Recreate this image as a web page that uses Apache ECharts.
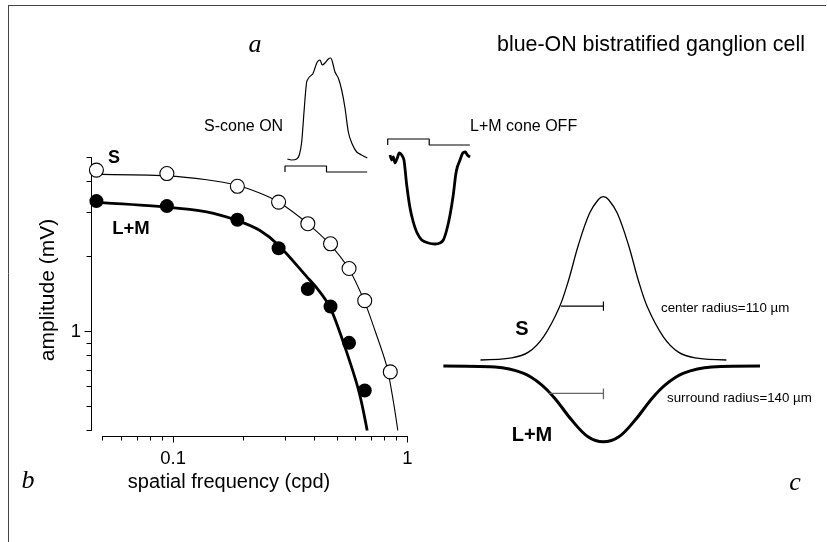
<!DOCTYPE html>
<html><head><meta charset="utf-8">
<script src="https://cdn.jsdelivr.net/npm/echarts@6/dist/echarts.min.js"></script>
<style>html,body{margin:0;padding:0;background:#fff}#c{width:827px;height:542px}</style>
</head><body><div id="c"></div><script>
// ---- panel b : spatial frequency tuning (log-log) ----
const freqS  = [0.047,0.094,0.188,0.282,0.376,0.47,0.564,0.658,0.846];
const ampS   = [4.45,4.31,3.83,3.31,2.71,2.25,1.79,1.33,0.688];
const freqLM = [0.047,0.094,0.188,0.282,0.376,0.47,0.564,0.658];
const ampLM  = [3.34,3.19,2.81,2.16,1.48,1.26,0.90,0.579];
const fitFreqS  = [0.047,0.094,0.139,0.188,0.234,0.282,0.374,0.467,0.5615,0.654,0.73,0.815,0.87,0.911];
const fitAmpS   = [4.28,4.22,4.07,3.86,3.6,3.31,2.72,2.24,1.79,1.33,1.0,0.73,0.53,0.4];
const fitFreqLM = [0.047,0.094,0.139,0.188,0.234,0.282,0.374,0.415,0.468,0.534,0.62,0.674];
const fitAmpLM  = [3.30,3.16,3.02,2.79,2.55,2.22,1.65,1.476,1.25,0.90,0.579,0.4];
const xRange = [0.05, 1];
const yRange = [0.4, 5];
const xMinorTicks = [0.05,0.06,0.07,0.08,0.09,0.2,0.3,0.4,0.5,0.6,0.7,0.8,0.9];
const xMajorTicks = [0.1, 1];
const xTickLabels = ['0.1', '1'];
const yMinorTicks = [0.4,0.5,0.6,0.7,0.8,0.9,2,3,4,5];
const yMajorTicks = [1];
const yTickLabels = ['1'];
// ---- panel a : response traces (sweep %, arbitrary amplitude) ----
const sConeT = [2.8,8.1,14.1,17.2,20.1,22.9,26.1,29.3,33.4,36.1,38.9,42.2,44.9,48.2,52.2,55.1,57.5,60.2,64.2,68.3,72.3,76.3,80.4,86.4,92.4,99.2];
const sConeV = [16,15,16,20,33,63,93,98,101,107,113,115,110,112,116,117,112,103,97,85,67,43,32,23,20,17];
const lmConeT = [2.8,4.8,6.7,8.8,11.6,14,16.9,19.6,22.9,26.9,30.8,34.9,41,48.9,57,63,67,71.1,75.1,79,81.9,83.9,87.1,90.4,93.5,95.9,99.2];
const lmConeV = [100,95,98,92,97,102,100,95,70,47,33,23,15,12,11,12,15,25,40,60,80,88,95,102,103,100,98];
const stimT = [0,0,50,50,99];
const sStimV = [3,9,9,3,3];
const lmStimV = [110,116,116,110,110];
// ---- panel c : receptive field profiles (um) ----
const posS  = [-318,-237,-194,-155,-114,-90,-65,-36,-13,0,13,36,65,90,114,155,194,237,318];
const sensS = [0.037,0.05,0.085,0.179,0.36,0.527,0.74,0.935,1.02,1.037,1.02,0.935,0.74,0.527,0.36,0.179,0.085,0.05,0.037];
const posLM  = [-414,-280,-206,-160,-125,-82,-40,0,40,82,125,160,206,280,405];
const sensLM = [0,-0.006,-0.045,-0.115,-0.2,-0.331,-0.433,-0.464,-0.433,-0.331,-0.2,-0.115,-0.045,-0.006,0];
const centerRadius = 110;
const surroundRadius = 140;

const zip = (a, b) => a.map((v, i) => [v, b[i]]);
const lg = v => Math.log10(v);
const FONT = '"Liberation Sans", Arial, sans-serif';
const SERIF = '"Liberation Serif", "Times New Roman", serif';

const G = {left: 102.7, top: 157.5, width: 304.6, height: 273};
const XOFF = 5.5, YOFF = 11.7;
const hiddenAx = (gi, min, max) => ({gridIndex: gi, type: 'value', min, max, show: false});
function labelFmt(ticks, labels) {
  return v => { const i = ticks.findIndex(t => Math.abs(lg(t) - v) < 1e-6); return i >= 0 ? labels[i] : ''; };
}

const chart = echarts.init(document.getElementById('c'), null, {renderer: 'canvas'});
chart.setOption({
  animation: false,
  backgroundColor: '#fff',
  grid: [
    Object.assign({}, G), Object.assign({}, G), Object.assign({}, G),
    {left: 285, top: 55, width: 83, height: 120},
    {left: 387.7, top: 135, width: 83, height: 120},
    {left: 443, top: 186.4, width: 317, height: 261.3}
  ],
  xAxis: [
    {gridIndex: 0, type: 'log', logBase: 10, min: xRange[0], max: xRange[1], offset: XOFF, position: 'bottom',
     axisLine: {show: true, onZero: false, lineStyle: {color: '#000', width: 1}}, axisTick: {show: false}, axisLabel: {show: false}, splitLine: {show: false}},
    {gridIndex: 1, type: 'value', min: lg(xRange[0]), max: lg(xRange[1]), offset: XOFF, position: 'bottom',
     axisLine: {show: false, onZero: false}, splitLine: {show: false}, axisLabel: {show: false},
     axisTick: {show: true, customValues: xMinorTicks.map(lg), length: 4.5, lineStyle: {color: '#000', width: 1}}},
    {gridIndex: 2, type: 'value', min: lg(xRange[0]), max: lg(xRange[1]), offset: XOFF, position: 'bottom',
     axisLine: {show: false, onZero: false}, splitLine: {show: false},
     axisTick: {show: true, customValues: xMajorTicks.map(lg), length: 6.5, lineStyle: {color: '#000', width: 1}},
     axisLabel: {show: true, customValues: xMajorTicks.map(lg), formatter: labelFmt(xMajorTicks, xTickLabels),
                 fontFamily: FONT, fontSize: 18.5, color: '#000', margin: 13},
     name: 'spatial frequency (cpd)', nameLocation: 'middle', nameGap: 32,
     nameTextStyle: {fontFamily: FONT, fontSize: 20, color: '#000', padding: [0, 52, 0, 0]}},
    hiddenAx(3, 0, 100), hiddenAx(4, 0, 100), hiddenAx(5, -415, 405)
  ],
  yAxis: [
    {gridIndex: 0, type: 'log', logBase: 10, min: yRange[0], max: yRange[1], offset: YOFF, position: 'left',
     axisLine: {show: true, onZero: false, lineStyle: {color: '#000', width: 1}}, axisTick: {show: false}, axisLabel: {show: false}, splitLine: {show: false}},
    {gridIndex: 1, type: 'value', min: lg(yRange[0]), max: lg(yRange[1]), offset: YOFF, position: 'left',
     axisLine: {show: false, onZero: false}, splitLine: {show: false}, axisLabel: {show: false},
     axisTick: {show: true, customValues: yMinorTicks.map(lg), length: 4.5, lineStyle: {color: '#000', width: 1}}},
    {gridIndex: 2, type: 'value', min: lg(yRange[0]), max: lg(yRange[1]), offset: YOFF, position: 'left',
     axisLine: {show: false, onZero: false}, splitLine: {show: false},
     axisTick: {show: true, customValues: yMajorTicks.map(lg), length: 6.5, lineStyle: {color: '#000', width: 1}},
     axisLabel: {show: true, customValues: yMajorTicks.map(lg), formatter: labelFmt(yMajorTicks, yTickLabels),
                 fontFamily: FONT, fontSize: 18.5, color: '#000', margin: 10},
     name: 'amplitude (mV)', nameLocation: 'middle', nameGap: 32, nameRotate: 90,
     nameTextStyle: {fontFamily: FONT, fontSize: 21, color: '#000', padding: [0, 0, 0, 8]}},
    hiddenAx(3, 0, 120), hiddenAx(4, 0, 120), hiddenAx(5, -0.5, 1.1)
  ],
  series: [
    {type: 'line', xAxisIndex: 0, yAxisIndex: 0, data: zip(fitFreqS, fitAmpS), symbol: 'none', smooth: 0.3, clip: false,
     lineStyle: {color: '#000', width: 1.1}, z: 2},
    {type: 'line', xAxisIndex: 0, yAxisIndex: 0, data: zip(fitFreqLM, fitAmpLM), symbol: 'none', smooth: 0.3, clip: false,
     lineStyle: {color: '#000', width: 2.8}, z: 2},
    {type: 'scatter', xAxisIndex: 0, yAxisIndex: 0, data: zip(freqS, ampS), symbol: 'circle', symbolSize: 14, clip: false,
     itemStyle: {color: '#fff', borderColor: '#000', borderWidth: 1.1, opacity: 1}, z: 3},
    {type: 'scatter', xAxisIndex: 0, yAxisIndex: 0, data: zip(freqLM, ampLM), symbol: 'circle', symbolSize: 14, clip: false,
     itemStyle: {color: '#000', opacity: 1}, z: 3},
    {type: 'line', xAxisIndex: 3, yAxisIndex: 3, data: zip(sConeT, sConeV), symbol: 'none', smooth: 0.25,
     lineStyle: {color: '#000', width: 1.2}},
    {type: 'line', xAxisIndex: 3, yAxisIndex: 3, data: zip(stimT, sStimV), symbol: 'none',
     lineStyle: {color: '#000', width: 1.2}},
    {type: 'line', xAxisIndex: 4, yAxisIndex: 4, data: zip(lmConeT, lmConeV), symbol: 'none', smooth: 0.25,
     lineStyle: {color: '#000', width: 2.8}},
    {type: 'line', xAxisIndex: 4, yAxisIndex: 4, data: zip(stimT, lmStimV), symbol: 'none',
     lineStyle: {color: '#000', width: 1.2}},
    {type: 'line', xAxisIndex: 5, yAxisIndex: 5, data: zip(posS, sensS), symbol: 'none', smooth: 0.35,
     lineStyle: {color: '#000', width: 1.3}},
    {type: 'line', xAxisIndex: 5, yAxisIndex: 5, data: zip(posLM, sensLM), symbol: 'none', smooth: 0.35,
     lineStyle: {color: '#000', width: 3}},
    {type: 'line', xAxisIndex: 5, yAxisIndex: 5, symbol: 'none',
     data: [[-centerRadius, 0.367], [0, 0.367], [0, 0.395], [0, 0.339]],
     lineStyle: {color: '#000', width: 1.2}},
    {type: 'line', xAxisIndex: 5, yAxisIndex: 5, symbol: 'none',
     data: [[-surroundRadius, -0.167], [0, -0.167], [0, -0.137], [0, -0.204]],
     lineStyle: {color: '#666', width: 1.3}}
  ],
  graphic: [
    {type: 'line', shape: {x1: 8, y1: 5.5, x2: 826, y2: 5.5}, style: {stroke: '#444', lineWidth: 1}},
    {type: 'line', shape: {x1: 8.5, y1: 5, x2: 8.5, y2: 542}, style: {stroke: '#444', lineWidth: 1}},
    {type: 'text', x: 497, y: 45, style: {text: 'blue-ON bistratified ganglion cell', font: '21.4px ' + FONT, fill: '#000', align: 'left', verticalAlign: 'middle'}},
    {type: 'text', x: 255, y: 45, style: {text: 'a', font: 'italic 26px ' + SERIF, fill: '#000', align: 'center', verticalAlign: 'middle'}},
    {type: 'text', x: 28, y: 481, style: {text: 'b', font: 'italic 26px ' + SERIF, fill: '#000', align: 'center', verticalAlign: 'middle'}},
    {type: 'text', x: 795, y: 483, style: {text: 'c', font: 'italic 26px ' + SERIF, fill: '#000', align: 'center', verticalAlign: 'middle'}},
    {type: 'text', x: 204, y: 127, style: {text: 'S-cone ON', font: '16px ' + FONT, fill: '#000', align: 'left', verticalAlign: 'middle'}},
    {type: 'text', x: 470, y: 127, style: {text: 'L+M cone OFF', font: '16px ' + FONT, fill: '#000', align: 'left', verticalAlign: 'middle'}},
    {type: 'text', x: 114, y: 158, style: {text: 'S', font: 'bold 18px ' + FONT, fill: '#000', align: 'center', verticalAlign: 'middle'}},
    {type: 'text', x: 131, y: 229, style: {text: 'L+M', font: 'bold 18.5px ' + FONT, fill: '#000', align: 'center', verticalAlign: 'middle'}},
    {type: 'text', x: 522, y: 329, style: {text: 'S', font: 'bold 20px ' + FONT, fill: '#000', align: 'center', verticalAlign: 'middle'}},
    {type: 'text', x: 532, y: 435, style: {text: 'L+M', font: 'bold 20px ' + FONT, fill: '#000', align: 'center', verticalAlign: 'middle'}},
    {type: 'text', x: 661, y: 308, style: {text: 'center radius=110 \u00b5m', font: '13.3px ' + FONT, fill: '#000', align: 'left', verticalAlign: 'middle'}},
    {type: 'text', x: 667, y: 398, style: {text: 'surround radius=140 \u00b5m', font: '13.3px ' + FONT, fill: '#000', align: 'left', verticalAlign: 'middle'}}
  ]
});
</script></body></html>
